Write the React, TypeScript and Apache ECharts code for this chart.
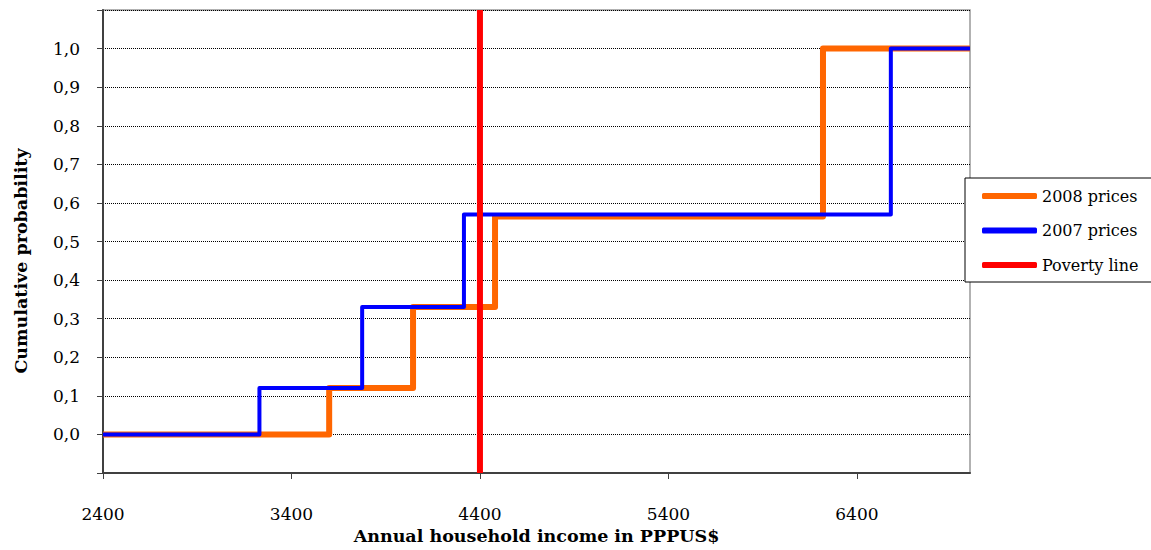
import React, { useEffect, useRef } from "react";
import * as echarts from "echarts";

// 2008 prices: step points (income, cumulative probability)
const income2008 = [2400, 3600, 4045, 4480, 6220, 7000];
const prob2008 = [0, 0.12, 0.33, 0.565, 1.0, 1.0];
// 2007 prices
const income2007 = [2400, 3230, 3775, 4315, 6580, 7000];
const prob2007 = [0, 0.12, 0.33, 0.57, 1.0, 1.0];
// Poverty line
const povertyIncome = 4400;
const povertyProb = [-0.1, 1.1];

const xTicks = [2400, 3400, 4400, 5400, 6400];
const seriesNames = ["2008 prices", "2007 prices", "Poverty line"];

const FONT = "'DejaVu Serif', 'Liberation Serif', serif";

export default function App() {
  const ref = useRef<HTMLDivElement>(null);
  useEffect(() => {
    document.body.style.margin = "0";
    const chart = echarts.init(ref.current!, null, { renderer: "svg" });
    const zip = (xs: number[], ys: number[]) => xs.map((x, i) => [x, ys[i]]);
    chart.setOption({
      animation: false,
      backgroundColor: "#ffffff",
      textStyle: { fontFamily: FONT },
      grid: {
        left: 103,
        right: 181,
        top: 10,
        bottom: 76,
        show: true,
        borderColor: "#999999",
        borderWidth: 1.5,
        backgroundColor: "transparent",
      },
      legend: {
        orient: "vertical",
        left: 965,
        top: 178,
        data: seriesNames,
        icon: "roundRect",
        itemWidth: 55,
        itemHeight: 6,
        itemGap: 16.5,
        padding: [9, 20, 8, 17],
        borderColor: "#000000",
        borderWidth: 1,
        backgroundColor: "#ffffff",
        textStyle: { fontFamily: FONT, fontSize: 16, color: "#000", lineHeight: 18, padding: [0, 0, 0, 0] },
      },
      xAxis: {
        type: "value",
        min: 2400,
        max: 7000,
        interval: 1000,
        name: "Annual household income in PPPUS$",
        nameLocation: "middle",
        nameGap: 54,
        nameTextStyle: { fontFamily: FONT, fontSize: 17.5, fontWeight: "bold", color: "#000" },
        axisLine: { show: true, onZero: false, lineStyle: { color: "#404040", width: 2 } },
        axisTick: { show: true, length: 6, customValues: xTicks, lineStyle: { color: "#404040", width: 1 } },
        axisLabel: {
          customValues: xTicks,
          margin: 32,
          fontFamily: FONT,
          fontSize: 17,
          color: "#000",
          formatter: (v: number) => String(v),
        },
        splitLine: { show: false },
      },
      yAxis: {
        type: "value",
        min: -0.1,
        max: 1.1,
        interval: 0.1,
        axisLine: { show: true, onZero: false, lineStyle: { color: "#404040", width: 2 } },
        axisTick: { show: true, length: 6, lineStyle: { color: "#404040", width: 1 } },
        axisLabel: {
          margin: 23,
          fontFamily: FONT,
          fontSize: 17,
          color: "#000",
          formatter: (v: number) => {
            const r = Math.round(v * 10) / 10;
            if (r < 0 || r > 1) return "";
            return r.toFixed(1).replace(".", ",");
          },
        },
        splitLine: { show: true, lineStyle: { color: "#000", type: "dotted", width: 1 } },
      },
      graphic: [
        {
          type: "text",
          x: 21,
          y: 261,
          rotation: Math.PI / 2,
          style: {
            text: "Cumulative probability",
            fontFamily: FONT,
            fontSize: 17.5,
            fontWeight: "bold",
            fill: "#000",
            align: "center",
            verticalAlign: "middle",
          },
        },
      ],
      series: [
        {
          name: seriesNames[0],
          type: "line",
          step: "end",
          data: zip(income2008, prob2008),
          symbol: "none",
          itemStyle: { color: "#FF6600" },
          lineStyle: { color: "#FF6600", width: 6, join: "round" },
        },
        {
          name: seriesNames[1],
          type: "line",
          step: "end",
          data: zip(income2007, prob2007),
          symbol: "none",
          itemStyle: { color: "#0000FF" },
          lineStyle: { color: "#0000FF", width: 4, join: "round" },
        },
        {
          name: seriesNames[2],
          type: "line",
          data: povertyProb.map((p) => [povertyIncome, p]),
          symbol: "none",
          itemStyle: { color: "#FF0000" },
          lineStyle: { color: "#FF0000", width: 6 },
        },
      ],
    });
    return () => chart.dispose();
  }, []);
  return <div ref={ref} style={{ width: 1151, height: 550 }} />;
}
